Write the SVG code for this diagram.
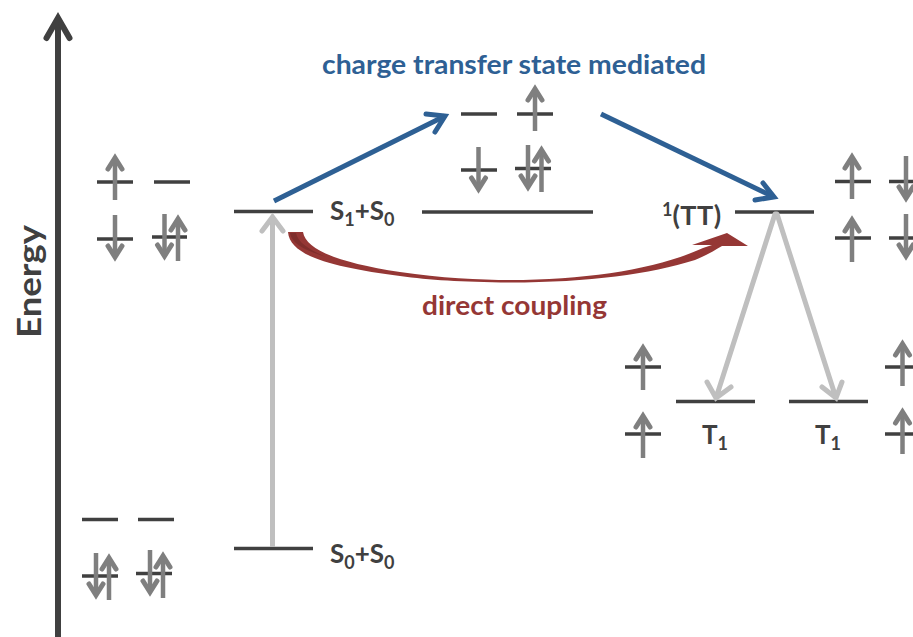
<svg xmlns="http://www.w3.org/2000/svg" xmlns:xlink="http://www.w3.org/1999/xlink" width="913" height="637" viewBox="0 0 913 637">
<style>
.o{stroke:#404040;stroke-width:3.500;fill:none}
.l{stroke:#404040;stroke-width:3.500;fill:none}
.s{stroke:#7f7f7f;stroke-width:4.500;fill:none;stroke-linejoin:miter}
.h{stroke:#7f7f7f;stroke-width:5;fill:none;stroke-linejoin:miter;stroke-linecap:round}
.t{font-family:"Lato","Carlito","Liberation Sans",sans-serif;font-weight:700;fill:#404040;font-size:26px}
.b{stroke-linecap:round;stroke-linejoin:miter;fill:none}
.sub{font-size:18px}
</style>
<defs>
<g id="up"><path class="s" d="M0 46V4"/><path class="h" d="M-7 15L0 4L7 15"/></g>
<g id="dn"><path class="s" d="M0 0V42"/><path class="h" d="M-7 31L0 42L7 31"/></g>
</defs>
<rect width="913" height="637" fill="#fff"/>
<g id="axis">
<path d="M58 637V18" stroke="#404040" stroke-width="6" fill="none"/>
<path d="M46.500 38L58 18L69.500 38" stroke="#404040" stroke-width="6" fill="none" stroke-linecap="round"/>
<text class="t" transform="translate(41 338) rotate(-90)" style="font-size:33px" textLength="113" lengthAdjust="spacingAndGlyphs">Energy</text>
</g>
<g id="mo-s1-left">
<path class="o" d="M97 182H133M154 182H190M97 239H133M152 237H187"/>
<use xlink:href="#up" href="#up" x="115" y="154"/>
<use xlink:href="#dn" href="#dn" x="115" y="215"/>
<use xlink:href="#dn" href="#dn" x="164.500" y="214"/>
<use xlink:href="#up" href="#up" x="178" y="215"/>
</g>
<g id="mo-s0-left">
<path class="o" d="M82 519.500H118M138 519.500H174M82 576H118M136 573.500H172"/>
<use xlink:href="#dn" href="#dn" x="96" y="553"/>
<use xlink:href="#up" href="#up" x="109" y="554"/>
<use xlink:href="#dn" href="#dn" x="150" y="550"/>
<use xlink:href="#up" href="#up" x="163" y="552"/>
</g>
<g id="mo-ct">
<path class="o" d="M461 114H497M517 114H553M461 170H497M515 168.500H551"/>
<use xlink:href="#up" href="#up" x="535" y="85"/>
<use xlink:href="#dn" href="#dn" x="478.500" y="147"/>
<use xlink:href="#dn" href="#dn" x="528" y="145"/>
<use xlink:href="#up" href="#up" x="541.500" y="146"/>
</g>
<g id="mo-tt">
<path class="o" d="M835 181.500H871M889 181.500H925M835 238H871M889 238H925"/>
<use xlink:href="#up" href="#up" x="852" y="153"/>
<use xlink:href="#dn" href="#dn" x="906" y="156"/>
<use xlink:href="#up" href="#up" x="852" y="216"/>
<use xlink:href="#dn" href="#dn" x="906" y="214"/>
</g>
<g id="mo-t1-left">
<path class="o" d="M625 367H661M625 434H661"/>
<use xlink:href="#up" href="#up" x="643" y="344"/>
<use xlink:href="#up" href="#up" x="643" y="412"/>
</g>
<g id="mo-t1-right">
<path class="o" d="M885 367H921M885 434H921"/>
<use xlink:href="#up" href="#up" x="902.500" y="340"/>
<use xlink:href="#up" href="#up" x="902.500" y="408"/>
</g>
<g id="level-s1s0"><path class="l" d="M234 211.500H313"/><text class="t" x="330" y="220">S<tspan class="sub" dy="6">1</tspan><tspan dy="-6">+S</tspan><tspan class="sub" dy="6">0</tspan></text></g>
<g id="level-ct"><path class="l" d="M422 212H593"/></g>
<g id="level-tt"><path class="l" d="M735 212H814"/><text class="t" x="662" y="225"><tspan class="sub" dy="-9">1</tspan><tspan dy="9" style="font-size:27px;letter-spacing:.5px">(TT)</tspan></text></g>
<g id="level-t1a"><path class="l" d="M676 401.500H755"/><text class="t" x="702" y="444">T<tspan class="sub" dy="6">1</tspan></text></g>
<g id="level-t1b"><path class="l" d="M789 401.500H868"/><text class="t" x="815" y="444">T<tspan class="sub" dy="6">1</tspan></text></g>
<g id="level-s0s0"><path class="l" d="M234 548.500H313"/><text class="t" x="330" y="563">S<tspan class="sub" dy="6">0</tspan><tspan dy="-6">+S</tspan><tspan class="sub" dy="6">0</tspan></text></g>
<g id="connectors">
<g stroke="#bfbfbf" stroke-width="5">
<path class="b" d="M272.500 547V218" style="stroke-linecap:butt"/><path class="b" d="M262 231L272.500 217L283 231"/>
<path class="b" d="M775 214L716 398M707 382L716 398L731 387"/>
<path class="b" d="M777 214L836 398M822 387L836 398L842 382"/>
</g>
<g stroke="#2e6094" stroke-width="5">
<path class="b" d="M274 201L445 116" style="stroke-linecap:butt"/><path class="b" d="M426 114L445 116L435 132"/>
<path class="b" d="M601 114L774 197" style="stroke-linecap:butt"/><path class="b" d="M755 200L774 197L763 183"/>
</g>
<path id="red-curve" fill="#953735" d="M288 232L303 232C306 250 340 263 400 272C440 278 480 280 510 280C590 280 660 268 703 248L712 245L692 245L727 233L748 246L722 246C712 252 705 256 695 260C650 274 590 282.500 510 282.500C460 282 430 280 400 276C340 268 290 258 288 232Z"/>
<path fill="#7f2e2c" d="M290 233L296 233C298 243 310 250 326 257C308 251 292 245 290 233Z"/>
</g>
<g id="labels">
<text class="t" x="322" y="74" style="fill:#2e6094;font-size:27px" textLength="384" lengthAdjust="spacingAndGlyphs">charge transfer state mediated</text>
<text class="t" x="422" y="315" style="fill:#953735;font-size:27px" textLength="185" lengthAdjust="spacingAndGlyphs">direct coupling</text>
</g>
</svg>
